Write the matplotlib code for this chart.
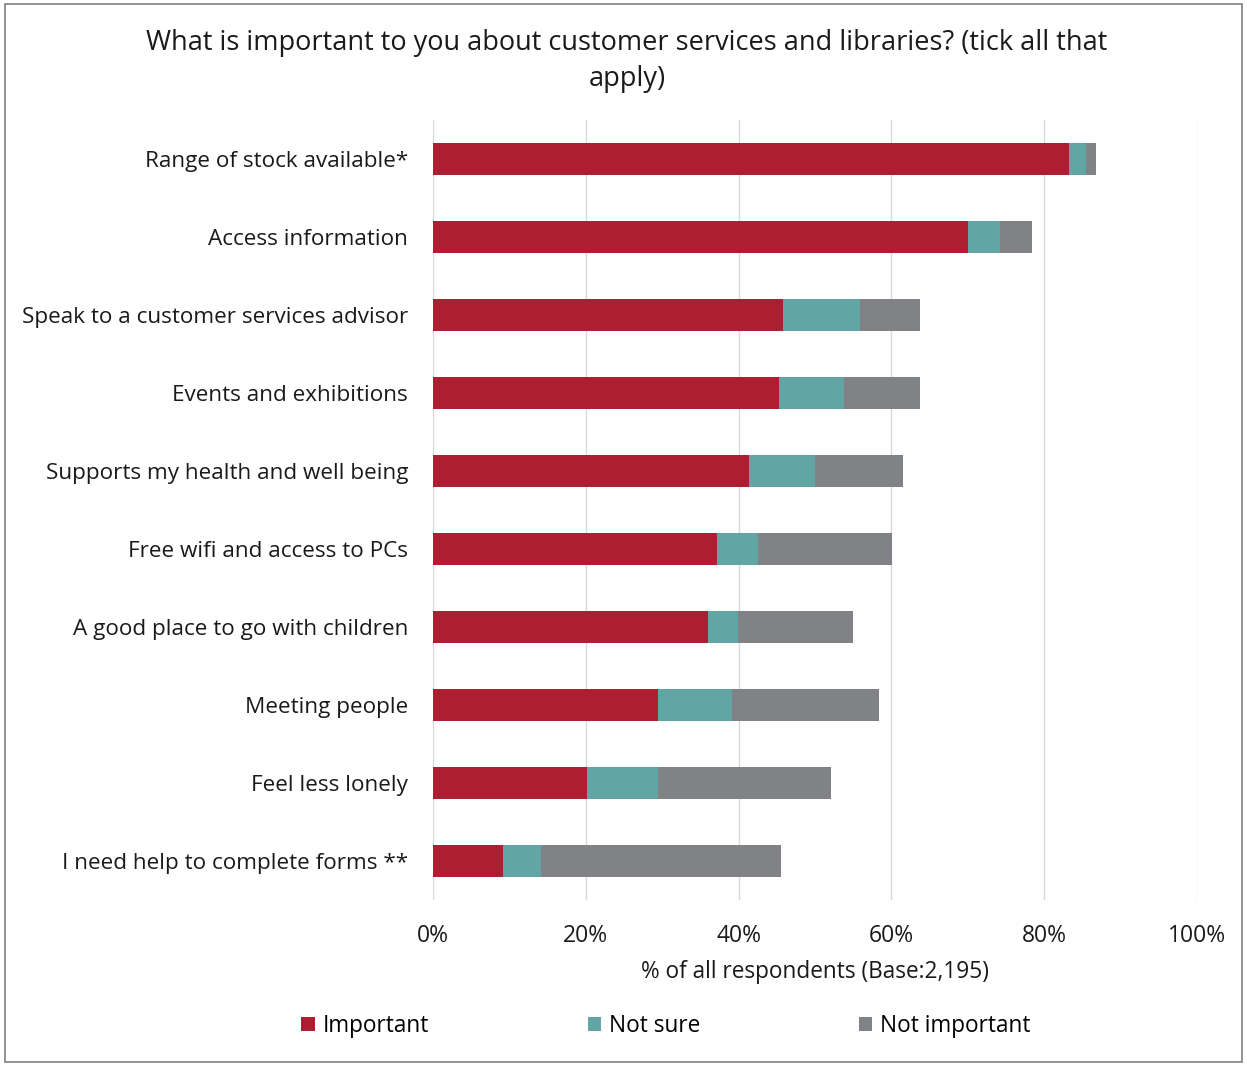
import matplotlib.pyplot as plt
from matplotlib.patches import Rectangle
import numpy as np

plt.rcParams['font.family'] = ['Open Sans', 'DejaVu Sans']

categories = [
    "Range of stock available*",
    "Access information",
    "Speak to a customer services advisor",
    "Events and exhibitions",
    "Supports my health and well being",
    "Free wifi and access to PCs",
    "A good place to go with children",
    "Meeting people",
    "Feel less lonely",
    "I need help to complete forms **",
]
important = [83.3, 70.0, 45.8, 45.3, 41.3, 37.2, 36.0, 29.4, 20.1, 9.1]
not_sure = [2.2, 4.2, 10.1, 8.5, 8.7, 5.4, 3.9, 9.8, 9.4, 5.0]
not_important = [1.3, 4.2, 7.9, 9.9, 11.5, 17.5, 15.1, 19.2, 22.6, 31.5]

colors = ["#AE1E32", "#62A5A5", "#818285"]
txt = "#1A1A1A"

fig = plt.figure(figsize=(12.47, 10.65), dpi=100)
ax = fig.add_axes([433 / 1247, 1 - 900 / 1065, (1197 - 433) / 1247, 780 / 1065])

y = np.arange(len(categories))
left = np.zeros(len(categories))
for vals, col, lab in zip([important, not_sure, not_important], colors,
                          ["Important", "Not sure", "Not important"]):
    ax.barh(y, vals, left=left, height=0.41, color=col, label=lab)
    left += np.array(vals)

ax.set_ylim(len(categories) - 0.5, -0.5)
ax.set_xlim(0, 100)
ax.set_yticks(y)
ax.set_yticklabels(categories, fontsize=16.2, color=txt)
ax.set_xticks(range(0, 101, 20))
ax.set_xticklabels([f"{v}%" for v in range(0, 101, 20)], fontsize=16.5, color=txt)
ax.tick_params(length=0)
ax.tick_params(axis="x", pad=17)
ax.tick_params(axis="y", pad=18)
ax.grid(axis="x", color="#D9D9D9", linewidth=1)
ax.set_axisbelow(True)
for s in ax.spines.values():
    s.set_visible(False)

ax.set_xlabel("% of all respondents (Base:2,195)", fontsize=16.3, color=txt, labelpad=9)

fig.text(627 / 1247, 1 - 61 / 1065,
         "What is important to you about customer services and libraries? (tick all that\napply)",
         ha="center", va="center", fontsize=19.5, color=txt, linespacing=1.38)

fig.legend(loc="center", bbox_to_anchor=(666 / 1247, 1 - 1026 / 1065), ncol=3,
           frameon=False, fontsize=16.3, handlelength=0.6, handleheight=0.6,
           handletextpad=0.35, columnspacing=7.0)

fig.patches.append(Rectangle((5 / 1247, 3 / 1065), 1237 / 1247, 1058 / 1065,
                             transform=fig.transFigure, fill=False,
                             edgecolor="#7F7F7F", linewidth=1.2))

fig.savefig("out.png", dpi=100)
